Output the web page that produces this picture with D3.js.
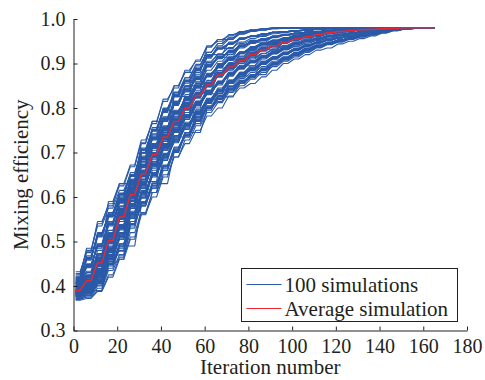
<!DOCTYPE html>
<html>
<head>
<meta charset="utf-8">
<script src="https://cdn.jsdelivr.net/npm/d3@7"></script>
<style>
  body { margin: 0; background: #fff; }
  svg text { font-family: "Liberation Serif", "Times New Roman", serif; fill: #231f20; }
</style>
</head>
<body>
<div id="chart"></div>
<script>
// iteration at which each recorded value applies
const iterations = [1,6,11,16,21,26,31,36,41,46,51,56,61,66,71,76,81,86,91,96,101,106,111,116,121,126,131,136,141,146,151,156,161,165];

// mixing efficiency x1000, red curve
const average = [390,412,452,502,555,605,652,695,735,770,800,828,852,874,892,907,920,931,940,948,955,960,965,969,972,974,976,977,978,979,980,980,980,980];

// mixing efficiency x1000, one row per simulation
const simulations = [
  [370,375,390,425,465,510,562,600,645,690,720,750,782,800,827,845,855,870,885,900,910,920,930,935,944,950,956,962,968,973,977,979,980,980],
  [372,378,395,435,470,520,565,610,650,690,728,760,790,812,835,850,865,880,893,905,915,925,935,942,948,954,959,964,969,974,978,980,980,980],
  [368,372,388,420,460,505,560,610,660,705,745,780,810,838,860,880,895,910,922,932,942,950,957,963,968,972,975,977,978,979,980,980,980,980],
  [390,408,448,495,550,595,640,675,705,735,760,780,800,820,838,855,870,885,898,908,918,928,936,943,950,956,962,968,972,976,979,980,980,980],
  [375,384,405,448,460,538,585,620,668,706,735,772,800,815,843,858,875,886,899,911,921,930,939,945,951,956,961,966,970,974,978,979,980,980],
  [378,388,410,450,495,540,580,630,670,700,745,775,800,825,845,860,872,885,900,912,922,932,940,946,952,957,962,967,971,975,978,980,980,980],
  [373,380,400,440,485,535,590,625,665,710,740,770,805,820,840,860,870,888,898,910,920,928,938,944,950,955,960,965,970,974,977,979,980,980],
  [380,390,390,455,490,490,580,630,630,700,745,745,795,825,825,855,875,875,900,910,925,935,942,948,953,958,962,966,970,974,977,979,980,980],
  [376,385,402,445,492,545,585,625,670,708,738,775,798,822,848,860,870,884,900,914,922,930,938,946,952,957,962,967,971,975,978,980,980,980],
  [382,392,412,452,480,530,588,632,660,705,742,770,802,828,842,862,872,886,896,908,920,932,940,945,950,956,962,966,970,974,978,980,980,980],
  [370,382,408,448,495,540,582,620,668,712,738,765,800,820,845,858,868,890,902,912,920,928,936,944,951,958,963,967,971,975,978,980,980,980],
  [377,386,406,450,488,540,590,630,672,702,740,778,804,826,842,856,874,888,898,910,924,934,941,947,953,958,962,966,970,974,977,979,980,980],
  [380,393,420,465,510,560,607,650,690,728,760,790,817,839,860,875,888,901,912,923,932,940,947,953,958,962,966,970,973,976,978,980,980,980],
  [385,395,418,460,515,555,600,655,695,725,765,792,815,840,858,878,890,900,914,925,933,941,948,954,959,963,967,970,973,976,978,980,980,980],
  [378,378,425,470,470,565,610,610,688,735,735,785,820,820,855,872,872,905,915,922,930,940,946,952,958,962,966,970,973,976,978,980,980,980],
  [382,398,422,462,512,552,612,655,692,722,762,795,814,836,862,878,886,898,910,924,934,942,948,954,958,963,967,970,973,976,978,980,980,980],
  [376,392,430,470,508,562,600,652,685,730,768,788,818,838,858,870,890,904,914,922,930,938,946,953,959,963,967,970,973,976,978,980,980,980],
  [384,396,420,458,518,568,605,648,695,725,755,792,822,842,856,876,886,900,912,924,934,941,948,953,958,962,966,970,973,976,979,980,980,980],
  [379,394,415,468,505,558,615,650,682,730,762,785,815,845,862,874,888,902,910,920,932,942,948,954,958,962,966,970,973,976,978,980,980,980],
  [381,391,424,462,512,560,604,660,692,724,758,796,818,832,860,880,890,898,914,926,933,940,947,953,958,962,966,970,973,976,978,980,980,980],
  [383,393,418,470,515,555,610,645,690,735,760,785,820,840,855,872,890,905,912,922,930,940,948,954,959,963,967,970,973,976,978,980,980,980],
  [377,390,428,463,505,565,608,652,698,725,762,792,812,842,862,876,884,900,915,924,931,939,946,952,958,962,966,970,973,976,978,980,980,980],
  [385,396,420,466,512,560,598,655,688,730,765,790,818,838,858,870,888,904,912,922,934,942,948,953,958,962,966,970,973,976,978,980,980,980],
  [380,394,422,460,510,562,612,648,692,728,755,792,820,836,862,878,892,900,910,922,932,940,947,953,958,962,966,970,973,976,978,980,980,980],
  [385,401,435,482,532,582,630,672,712,749,780,809,835,857,876,891,904,916,926,936,944,950,956,961,965,968,971,974,976,978,979,980,980,980],
  [388,404,430,488,528,585,625,678,715,745,785,805,838,855,878,890,905,915,928,935,944,951,956,961,965,968,971,974,976,978,979,980,980,980],
  [383,383,440,478,478,578,635,635,718,752,752,812,832,832,872,895,895,918,925,938,945,950,956,961,965,968,971,974,976,978,979,980,980,980],
  [390,400,432,485,530,590,628,675,710,755,782,805,840,855,880,888,906,914,928,936,943,950,956,960,964,968,971,974,976,978,979,980,980,980],
  [386,402,436,480,534,580,628,668,705,738,765,790,812,832,850,866,880,893,905,915,925,933,941,948,954,959,964,968,972,975,978,980,980,980],
  [384,400,432,482,530,582,632,680,725,765,800,832,858,880,898,912,926,936,945,952,958,963,967,970,973,975,977,978,979,980,980,980,980,980],
  [387,403,438,475,538,585,622,676,708,752,778,815,832,858,875,893,903,916,928,934,945,950,957,961,965,968,971,974,976,978,979,980,980,980],
  [382,400,430,490,528,578,638,670,715,745,785,806,838,852,878,890,906,918,925,936,944,950,955,961,965,968,971,974,976,978,979,980,980,980],
  [389,405,434,484,526,586,630,665,716,750,774,812,836,860,872,892,904,915,927,936,943,950,956,961,965,968,971,974,976,978,979,980,980,980],
  [385,398,437,479,535,575,632,675,708,748,783,808,830,860,878,888,905,917,925,937,944,950,956,961,965,968,971,974,976,978,979,980,980,980],
  [405,430,470,520,572,618,660,698,732,762,790,815,838,858,875,890,902,913,922,931,939,946,952,957,962,966,970,973,976,978,979,980,980,980],
  [383,402,433,486,531,584,627,673,714,746,781,811,833,856,879,890,903,916,927,935,944,950,956,961,965,968,971,974,976,978,979,980,980,980],
  [386,400,436,480,536,580,630,670,710,752,778,808,837,855,875,893,904,914,926,936,944,950,956,961,965,968,971,974,976,978,979,980,980,980],
  [384,401,431,483,529,583,634,671,711,747,782,810,834,858,874,892,905,917,925,936,945,951,956,961,965,968,971,974,976,978,979,980,980,980],
  [376,385,408,450,492,545,598,648,695,738,775,806,834,860,880,896,910,922,932,941,949,955,961,966,970,973,975,977,978,979,980,980,980,980],
  [387,399,438,484,533,581,629,674,713,750,779,810,836,857,877,890,904,916,926,937,944,950,956,961,965,968,971,974,976,978,979,980,980,980],
  [390,410,450,500,555,605,652,695,735,770,800,828,852,874,892,907,920,931,940,948,955,960,965,969,972,974,976,977,978,979,980,980,980,980],
  [392,412,412,480,555,555,640,695,720,770,790,828,840,874,885,907,915,931,938,948,952,960,963,969,971,974,976,977,978,979,980,980,980,980],
  [388,415,455,495,560,600,660,690,740,768,805,825,855,872,895,905,922,930,942,947,956,960,965,969,972,974,976,977,978,979,980,980,980,980],
  [395,405,445,510,550,612,648,700,730,775,798,832,850,876,890,910,918,932,940,949,955,961,965,969,972,974,976,977,978,979,980,980,980,980],
  [385,418,440,505,545,610,655,690,742,765,808,822,858,870,895,904,922,928,942,946,956,959,966,968,972,974,976,977,978,979,980,980,980,980],
  [392,408,458,498,562,598,650,705,728,778,795,835,848,878,888,910,918,933,939,950,954,961,964,970,972,974,976,977,978,979,980,980,980,980],
  [390,410,448,502,556,604,654,654,725,770,800,800,850,874,892,892,920,931,931,948,955,955,965,969,972,974,976,977,978,979,980,980,980,980],
  [393,412,452,496,552,608,650,698,732,772,798,830,850,876,890,908,919,932,941,947,955,960,966,969,972,974,976,977,978,979,980,980,980,980],
  [387,406,446,504,558,602,656,692,738,768,802,826,854,872,894,906,921,930,941,948,956,960,965,969,972,974,976,977,978,979,980,980,980,980],
  [382,396,425,470,520,575,630,685,732,775,812,845,872,895,912,926,937,946,953,958,963,967,970,972,974,976,977,978,979,980,980,980,980,980],
  [406,430,468,518,570,615,655,692,725,757,785,810,834,856,875,891,904,916,926,936,944,950,956,961,965,968,971,974,976,978,979,980,980,980],
  [391,411,451,499,553,606,653,694,736,771,799,829,853,873,893,906,921,930,941,947,956,960,965,969,972,974,976,977,978,979,980,980,980,980],
  [390,410,470,470,560,620,620,700,750,750,810,835,835,880,900,900,925,935,935,950,958,958,966,970,972,974,976,977,978,979,980,980,980,980],
  [394,414,444,506,550,610,646,698,740,766,804,824,856,870,896,904,924,928,943,946,957,959,966,968,972,974,976,977,978,979,980,980,980,980],
  [386,407,453,497,559,601,657,691,733,774,796,832,848,877,889,910,917,933,938,950,953,961,964,970,972,974,976,977,978,979,980,980,980,980],
  [392,409,449,501,554,607,651,696,734,771,801,827,853,875,891,908,919,932,939,949,954,961,965,969,972,974,976,977,978,979,980,980,980,980],
  [386,402,437,485,537,590,640,688,732,770,805,836,862,884,902,917,929,939,947,954,959,964,968,971,974,976,977,978,979,980,980,980,980,980],
  [389,411,452,498,557,603,654,693,737,769,802,826,851,876,891,906,921,930,941,947,955,960,965,969,972,974,976,977,978,979,980,980,980,980],
  [399,421,461,512,569,620,670,714,755,790,820,848,874,894,910,924,934,943,950,956,962,965,969,972,974,976,977,978,979,980,980,980,980,980],
  [402,418,418,508,574,574,674,710,710,786,824,824,878,890,890,922,936,942,951,955,962,965,969,972,974,976,977,978,979,980,980,980,980,980],
  [396,425,458,516,565,625,666,718,750,795,816,852,870,898,908,926,932,945,949,957,961,966,969,972,974,976,977,978,979,980,980,980,980,980],
  [400,420,460,460,560,620,620,710,755,755,820,848,848,894,910,910,934,943,943,956,962,962,969,972,974,976,977,978,979,980,980,980,980,980],
  [398,422,463,510,571,618,672,712,757,788,822,846,876,892,912,922,936,942,951,955,963,965,969,972,974,976,977,978,979,980,980,980,980,980],
  [400,420,460,510,565,612,655,695,730,762,790,815,838,858,876,890,902,913,922,931,939,946,952,957,962,966,970,973,976,978,979,980,980,980],
  [403,424,457,515,566,623,668,716,753,792,818,850,872,896,908,925,933,944,950,956,962,966,969,972,974,976,977,978,979,980,980,980,980,980],
  [397,419,465,509,572,617,673,711,758,787,823,845,877,891,913,923,935,943,951,956,962,965,969,972,974,976,977,978,979,980,980,980,980,980],
  [390,410,452,505,562,620,678,730,775,815,848,876,902,922,936,948,956,962,967,970,973,975,977,978,979,980,980,980,980,980,980,980,980,980],
  [401,423,459,514,567,622,669,715,754,791,819,849,873,895,909,925,933,944,950,957,962,966,969,972,974,976,977,978,979,980,980,980,980,980],
  [395,420,462,511,570,619,671,713,756,789,821,847,875,893,911,923,935,943,950,956,962,965,969,972,974,976,977,978,979,980,980,980,980,980],
  [400,420,480,480,575,625,625,720,760,760,830,855,855,900,915,915,938,946,946,958,963,963,970,972,974,976,977,978,979,980,980,980,980,980],
  [404,418,464,513,568,621,667,717,752,793,817,851,871,897,907,926,932,945,949,957,961,966,969,972,974,976,977,978,979,980,980,980,980,980],
  [397,422,460,514,566,618,672,712,756,789,822,846,875,893,911,923,935,942,951,956,962,965,969,972,974,976,977,978,979,980,980,980,980,980],
  [380,395,428,478,535,592,645,700,745,788,825,858,885,905,921,935,945,952,958,963,967,970,972,974,976,977,978,979,979,980,980,980,980,980],
  [400,421,462,511,570,621,669,714,754,791,820,848,874,894,910,924,934,943,950,956,962,965,969,972,974,976,977,978,979,980,980,980,980,980],
  [408,445,490,540,590,635,687,733,775,810,840,868,895,914,927,940,948,955,960,964,968,970,972,974,976,977,978,979,979,980,980,980,980,980],
  [412,442,495,535,594,630,692,728,780,806,845,864,898,912,929,938,950,954,961,964,968,970,972,974,976,977,978,979,979,980,980,980,980,980],
  [405,448,488,545,586,640,683,737,771,815,836,872,892,916,925,942,947,956,959,965,968,970,972,974,976,977,978,979,979,980,980,980,980,980],
  [410,445,445,540,590,590,680,733,733,810,840,840,895,914,914,940,948,948,960,964,964,970,972,974,976,977,978,979,979,980,980,980,980,980],
  [407,446,492,538,592,633,689,731,777,808,842,866,897,912,929,938,949,955,960,964,968,970,972,974,976,977,978,979,979,980,980,980,980,980],
  [415,460,512,558,600,632,672,710,745,776,805,830,852,872,888,901,913,923,932,940,947,953,958,962,966,969,972,974,976,978,979,980,980,980],
  [409,443,489,542,588,637,685,735,773,812,838,870,893,916,925,941,947,956,960,964,968,970,972,974,976,977,978,979,979,980,980,980,980,980],
  [406,447,491,539,591,636,688,732,776,809,841,867,896,913,928,939,948,955,960,964,968,970,972,974,976,977,978,979,979,980,980,980,980,980],
  [408,450,450,555,597,597,700,740,740,825,850,850,905,920,920,945,952,952,962,966,966,971,973,974,976,977,978,979,979,980,980,980,980,980],
  [411,441,494,537,593,632,690,730,778,807,843,865,898,911,930,938,950,954,961,964,968,970,972,974,976,977,978,979,979,980,980,980,980,980],
  [400,421,461,515,578,640,698,750,798,836,868,896,925,945,957,967,972,976,978,979,980,980,980,980,980,980,980,980,980,980,980,980,980,980],
  [407,445,490,541,589,636,686,734,774,811,839,869,894,915,926,941,948,955,960,964,968,970,972,974,976,977,978,979,979,980,980,980,980,980],
  [416,462,515,560,605,650,705,751,795,830,860,888,916,934,945,956,961,966,970,972,974,975,977,978,979,980,980,980,980,980,980,980,980,980],
  [420,420,515,560,560,646,710,710,800,826,826,885,920,920,948,954,962,965,970,972,974,975,977,978,979,980,980,980,980,980,980,980,980,980],
  [412,468,512,565,600,655,700,756,790,835,856,892,912,937,943,958,960,967,969,972,974,975,977,978,979,980,980,980,980,980,980,980,980,980],
  [418,465,465,565,606,606,700,751,751,830,860,860,916,934,934,956,961,961,970,972,972,975,977,978,979,980,980,980,980,980,980,980,980,980],
  [414,460,518,558,608,648,707,749,797,828,862,886,918,932,946,955,962,966,970,972,974,975,977,978,979,980,980,980,980,980,980,980,980,980],
  [408,433,473,525,580,628,672,712,748,780,808,834,857,877,894,909,921,932,941,949,955,960,965,969,972,974,976,977,978,979,980,980,980,980],
  [417,458,520,556,604,651,704,752,794,831,859,889,915,935,944,957,961,966,970,972,974,975,977,978,979,980,980,980,980,980,980,980,980,980],
  [392,412,455,510,570,628,688,742,792,834,868,898,925,945,958,968,974,977,979,980,980,980,980,980,980,980,980,980,980,980,980,980,980,980],
  [419,464,510,562,609,647,708,748,798,828,863,886,918,933,946,955,962,965,970,972,974,975,977,978,979,980,980,980,980,980,980,980,980,980],
  [428,480,540,585,625,668,722,770,815,850,880,908,937,954,962,972,975,978,980,980,980,980,980,980,980,980,980,980,980,980,980,980,980,980],
  [432,475,545,580,630,672,728,765,820,845,885,905,940,950,965,970,976,978,980,980,980,980,980,980,980,980,980,980,980,980,980,980,980,980],
  [422,485,485,590,630,630,720,770,770,850,880,880,937,954,954,972,975,975,980,980,980,980,980,980,980,980,980,980,980,980,980,980,980,980],
  [425,478,535,575,615,650,685,720,752,782,810,835,858,878,895,910,922,932,941,949,955,960,965,969,972,974,976,977,978,979,980,980,980,980],
  [380,393,425,475,535,598,660,718,770,812,850,884,915,940,955,966,972,976,978,980,980,980,980,980,980,980,980,980,980,980,980,980,980,980]
];

const xTicks = [0,20,40,60,80,100,120,140,160,180];
const yTicks = [0.3,0.4,0.5,0.6,0.7,0.8,0.9,1.0];
const legendItems = [
  { label: "100 simulations", color: "#2a5aa8" },
  { label: "Average simulation", color: "#ec2730" }
];

const width = 485, height = 380;

const svg = d3.select("#chart")
  .append("svg")
  .attr("width", width)
  .attr("height", height);

const x = d3.scaleLinear().domain([0, 180]).range([73.5, 467]);
const y = d3.scaleLinear().domain([0.3, 1.0]).range([330.5, 19]);

// each recorded value is held briefly, then rises to the next one over three iterations
const rise = 3;
function stairs(vals) {
  const pts = [];
  vals.forEach((v, i) => {
    pts.push([iterations[i], v / 1000]);
    if (i < vals.length - 1) pts.push([iterations[i + 1] - rise, v / 1000]);
  });
  return pts;
}

const line = d3.line()
  .x(d => x(d[0]))
  .y(d => y(d[1]));

svg.append("g")
  .attr("fill", "none")
  .attr("stroke", legendItems[0].color)
  .attr("stroke-width", 1.1)
  .attr("stroke-linejoin", "round")
  .selectAll("path")
  .data(simulations)
  .join("path")
  .attr("d", d => line(stairs(d)));

svg.append("path")
  .attr("fill", "none")
  .attr("stroke", legendItems[1].color)
  .attr("stroke-width", 1.4)
  .attr("stroke-linejoin", "round")
  .attr("d", line(stairs(average)));

// axes, ticks pointing inward
const xAxis = svg.append("g")
  .attr("transform", `translate(0,${y(0.3)})`)
  .call(d3.axisBottom(x).tickValues(xTicks).tickSizeInner(-4).tickSizeOuter(0).tickPadding(8));

const yAxis = svg.append("g")
  .attr("transform", `translate(${x(0)},0)`)
  .call(d3.axisLeft(y).tickValues(yTicks).tickFormat(d3.format(".1f"))
    .tickSizeInner(-4).tickSizeOuter(0).tickPadding(8));

[xAxis, yAxis].forEach(g => {
  g.select(".domain").attr("stroke", "#231f20");
  g.selectAll(".tick line").attr("stroke", "#231f20");
  g.selectAll(".tick text")
    .attr("font-size", 20)
    .attr("fill", "#231f20");
});

svg.append("text")
  .attr("x", x(90))
  .attr("y", 374)
  .attr("text-anchor", "middle")
  .attr("font-size", 21)
  .text("Iteration number");

svg.append("text")
  .attr("transform", `translate(28,${y(0.65)}) rotate(-90)`)
  .attr("text-anchor", "middle")
  .attr("font-size", 21)
  .text("Mixing efficiency");

// legend
const legend = svg.append("g").attr("transform", "translate(241.5,268.5)");
legend.append("rect")
  .attr("width", 216)
  .attr("height", 53)
  .attr("fill", "#fff")
  .attr("stroke", "#231f20")
  .attr("stroke-width", 1);

legendItems.forEach((item, i) => {
  const cy = 16 + i * 24;
  legend.append("line")
    .attr("x1", 5).attr("x2", 40)
    .attr("y1", cy).attr("y2", cy)
    .attr("stroke", item.color)
    .attr("stroke-width", 1.2);
  legend.append("text")
    .attr("x", 43)
    .attr("y", cy + 7)
    .attr("font-size", 21)
    .text(item.label);
});
</script>
</body>
</html>
